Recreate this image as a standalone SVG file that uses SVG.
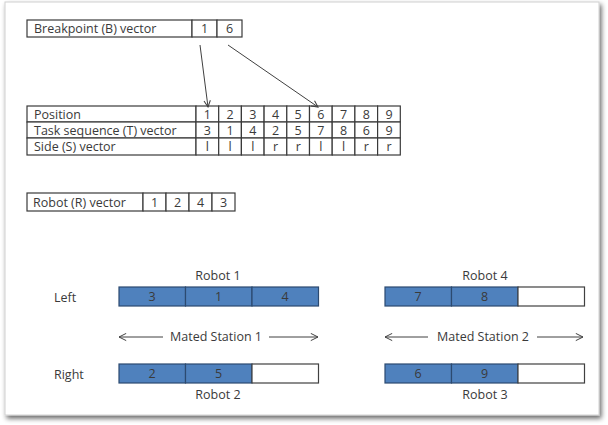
<svg xmlns="http://www.w3.org/2000/svg" width="608" height="425" viewBox="0 0 608 425">
<defs>
<filter id="sh" x="-5%" y="-5%" width="110%" height="110%">
<feGaussianBlur in="SourceAlpha" stdDeviation="2.5"/>
<feOffset dx="2" dy="3" result="b"/>
<feComponentTransfer><feFuncA type="linear" slope="0.6"/></feComponentTransfer>
<feMerge><feMergeNode/><feMergeNode in="SourceGraphic"/></feMerge>
</filter>
<marker id="ah" viewBox="0 0 10 10" refX="9" refY="5" markerWidth="8" markerHeight="8" orient="auto-start-reverse" markerUnits="userSpaceOnUse">
<path d="M1,1 L9,5 L1,9" fill="none" stroke="#404040" stroke-width="1.3"/>
</marker>
<marker id="oa" viewBox="0 0 10 10" refX="9" refY="5" markerWidth="9" markerHeight="9" orient="auto-start-reverse" markerUnits="userSpaceOnUse">
<path d="M1,1 L9,5 L1,9" fill="none" stroke="#404040" stroke-width="1.1"/>
</marker>
</defs>
<style>
text{font-family:"Open Sans","Liberation Sans",sans-serif;font-size:12.5px;fill:#3a3a3a}
.c{text-anchor:middle}
.cell{fill:#fff;stroke:#3a3a3a;stroke-width:1.2}
.blue{fill:#4f81bd;stroke:#2c4a70;stroke-width:1.2}
.wht{fill:#fff;stroke:#404040;stroke-width:1.2}
.ln{stroke:#404040;stroke-width:1;fill:none}
</style>
<rect x="0" y="0" width="608" height="425" fill="#fff"/>
<rect x="5" y="2" width="594" height="413" fill="#fff" stroke="#d0d0d0" stroke-width="1" filter="url(#sh)"/>

<g id="breakpoint">
<rect class="cell" x="27" y="20" width="165" height="17"/>
<rect class="cell" x="192" y="20" width="25" height="17"/>
<rect class="cell" x="217" y="20" width="25" height="17"/>
<text x="34" y="33">Breakpoint (B) vector</text>
<text class="c" x="204.5" y="33">1</text>
<text class="c" x="229.5" y="33">6</text>
</g>

<g id="table">
<rect class="cell" x="27" y="106" width="169" height="16"/>
<rect class="cell" x="27" y="122" width="169" height="16"/>
<rect class="cell" x="27" y="138" width="169" height="17"/>
<text x="34" y="119">Position</text>
<text x="34" y="135">Task sequence (T) vector</text>
<text x="34" y="151">Side (S) vector</text>
<g id="cols">
<rect class="cell" x="196" y="106" width="22.7" height="16"/><rect class="cell" x="196" y="122" width="22.7" height="16"/><rect class="cell" x="196" y="138" width="22.7" height="17"/>
<rect class="cell" x="218.7" y="106" width="22.7" height="16"/><rect class="cell" x="218.7" y="122" width="22.7" height="16"/><rect class="cell" x="218.7" y="138" width="22.7" height="17"/>
<rect class="cell" x="241.4" y="106" width="22.7" height="16"/><rect class="cell" x="241.4" y="122" width="22.7" height="16"/><rect class="cell" x="241.4" y="138" width="22.7" height="17"/>
<rect class="cell" x="264.1" y="106" width="22.7" height="16"/><rect class="cell" x="264.1" y="122" width="22.7" height="16"/><rect class="cell" x="264.1" y="138" width="22.7" height="17"/>
<rect class="cell" x="286.8" y="106" width="22.7" height="16"/><rect class="cell" x="286.8" y="122" width="22.7" height="16"/><rect class="cell" x="286.8" y="138" width="22.7" height="17"/>
<rect class="cell" x="309.5" y="106" width="22.7" height="16"/><rect class="cell" x="309.5" y="122" width="22.7" height="16"/><rect class="cell" x="309.5" y="138" width="22.7" height="17"/>
<rect class="cell" x="332.2" y="106" width="22.7" height="16"/><rect class="cell" x="332.2" y="122" width="22.7" height="16"/><rect class="cell" x="332.2" y="138" width="22.7" height="17"/>
<rect class="cell" x="354.9" y="106" width="22.7" height="16"/><rect class="cell" x="354.9" y="122" width="22.7" height="16"/><rect class="cell" x="354.9" y="138" width="22.7" height="17"/>
<rect class="cell" x="377.6" y="106" width="22.7" height="16"/><rect class="cell" x="377.6" y="122" width="22.7" height="16"/><rect class="cell" x="377.6" y="138" width="22.7" height="17"/>
</g>
<g>
<text class="c" x="207.4" y="119">1</text><text class="c" x="230.1" y="119">2</text><text class="c" x="252.8" y="119">3</text><text class="c" x="275.5" y="119">4</text><text class="c" x="298.2" y="119">5</text><text class="c" x="320.9" y="119">6</text><text class="c" x="343.6" y="119">7</text><text class="c" x="366.3" y="119">8</text><text class="c" x="389" y="119">9</text>
<text class="c" x="207.4" y="135">3</text><text class="c" x="230.1" y="135">1</text><text class="c" x="252.8" y="135">4</text><text class="c" x="275.5" y="135">2</text><text class="c" x="298.2" y="135">5</text><text class="c" x="320.9" y="135">7</text><text class="c" x="343.6" y="135">8</text><text class="c" x="366.3" y="135">6</text><text class="c" x="389" y="135">9</text>
<text class="c" x="207.4" y="151">l</text><text class="c" x="230.1" y="151">l</text><text class="c" x="252.8" y="151">l</text><text class="c" x="275.5" y="151">r</text><text class="c" x="298.2" y="151">r</text><text class="c" x="320.9" y="151">l</text><text class="c" x="343.6" y="151">l</text><text class="c" x="366.3" y="151">r</text><text class="c" x="389" y="151">r</text>
</g>
</g>

<g id="robotvector">
<rect class="cell" x="27" y="193" width="116" height="18"/>
<rect class="cell" x="143" y="193" width="23" height="18"/>
<rect class="cell" x="166" y="193" width="23" height="18"/>
<rect class="cell" x="189" y="193" width="23" height="18"/>
<rect class="cell" x="212" y="193" width="23" height="18"/>
<text x="33" y="207">Robot (R) vector</text>
<text class="c" x="154.5" y="207">1</text>
<text class="c" x="177.5" y="207">2</text>
<text class="c" x="200.5" y="207">4</text>
<text class="c" x="223.5" y="207">3</text>
</g>

<g id="connectors">
<line class="ln" x1="200" y1="45" x2="208" y2="107" marker-end="url(#ah)"/>
<line class="ln" x1="228" y1="45" x2="318" y2="107" marker-end="url(#ah)"/>
<line class="ln" x1="119" y1="337" x2="163" y2="337" marker-start="url(#oa)"/>
<line class="ln" x1="269" y1="337" x2="318" y2="337" marker-end="url(#oa)"/>
<line class="ln" x1="385" y1="337" x2="428" y2="337" marker-start="url(#oa)"/>
<line class="ln" x1="537" y1="337" x2="583" y2="337" marker-end="url(#oa)"/>
</g>

<g id="left-label"><text x="54" y="302">Left</text></g>
<g id="right-label"><text x="54" y="379">Right</text></g>

<g id="robot1">
<text class="c" x="218" y="280">Robot 1</text>
<rect class="blue" x="119" y="287" width="66.5" height="19"/>
<rect class="blue" x="185.5" y="287" width="66.5" height="19"/>
<rect class="blue" x="252" y="287" width="66.5" height="19"/>
<text class="c" x="152" y="301">3</text>
<text class="c" x="218.5" y="301">1</text>
<text class="c" x="285" y="301">4</text>
</g>

<g id="station1"><text class="c" x="216" y="341">Mated Station 1</text></g>

<g id="robot2">
<rect class="blue" x="119" y="364" width="66.5" height="19"/>
<rect class="blue" x="185.5" y="364" width="66.5" height="19"/>
<rect class="wht" x="252" y="364" width="66.5" height="19"/>
<text class="c" x="152" y="378">2</text>
<text class="c" x="218.5" y="378">5</text>
<text class="c" x="218" y="399">Robot 2</text>
</g>

<g id="robot4">
<text class="c" x="485" y="280">Robot 4</text>
<rect class="blue" x="385" y="287" width="66.5" height="19"/>
<rect class="blue" x="451.5" y="287" width="66.5" height="19"/>
<rect class="wht" x="518" y="287" width="66.5" height="19"/>
<text class="c" x="418" y="301">7</text>
<text class="c" x="484.5" y="301">8</text>
</g>

<g id="station2"><text class="c" x="483" y="341">Mated Station 2</text></g>

<g id="robot3">
<rect class="blue" x="385" y="364" width="66.5" height="19"/>
<rect class="blue" x="451.5" y="364" width="66.5" height="19"/>
<rect class="wht" x="518" y="364" width="66.5" height="19"/>
<text class="c" x="418" y="378">6</text>
<text class="c" x="484.5" y="378">9</text>
<text class="c" x="485" y="399">Robot 3</text>
</g>
</svg>
